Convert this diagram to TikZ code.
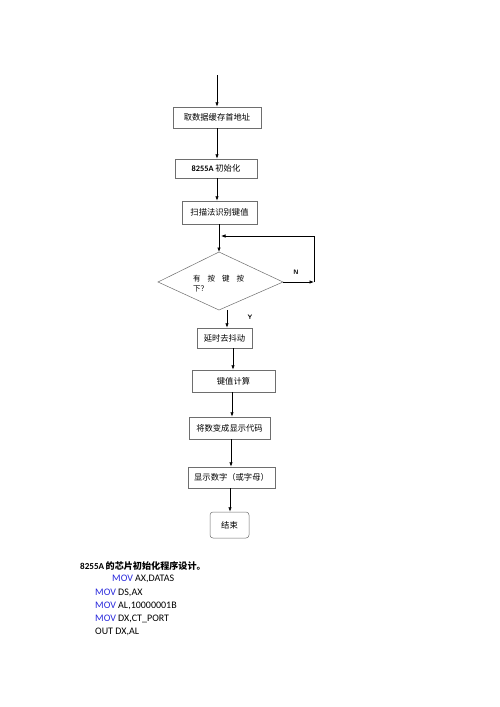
\documentclass[tikz,border=0pt]{standalone}
\usepackage{fontspec}
\setmainfont{Carlito}
\newfontfamily\cjk{Noto Sans CJK SC}
\usetikzlibrary{arrows.meta}
\definecolor{kw}{RGB}{40,40,220}
\definecolor{boxline}{RGB}{110,110,110}
\tikzset{
  arr/.style={draw=black, line width=0.7pt, -{Latex[length=4.5pt,width=3.5pt]}},
  fbox/.style={draw=boxline, line width=0.5pt, inner sep=0pt, font=\cjk\fontsize{8.3}{10}\selectfont},
  lbl/.style={font=\sffamily\bfseries\fontsize{6.5}{7}\selectfont, inner sep=0pt},
  code/.style={anchor=west, inner sep=0pt, font=\fontsize{10}{11}\selectfont}
}
\begin{document}
\begin{tikzpicture}[x=1pt,y=-1pt]
\useasboundingbox[fill=white] (0,0) rectangle (500,707);
% boxes
\node[fbox, minimum width=88, minimum height=21] (b1) at (217,117.5) {取数据缓存首地址};
\node[fbox, minimum width=82, minimum height=19] (b2) at (216,168.5) {{\fontspec{Carlito}\bfseries 8255A} 初始化};
\node[fbox, minimum width=75, minimum height=23] (b3) at (219.5,212.5) {扫描法识别键值};
% diamond
\coordinate (dT) at (219,252);
\coordinate (dR) at (283,282);
\coordinate (dB) at (219,310);
\coordinate (dL) at (158,282);
\draw[draw=boxline, line width=0.5pt] (dL) -- (dT) -- (dR) -- (dB) -- cycle;
\node[anchor=west, inner sep=0pt, font=\cjk\fontsize{7.5}{10}\selectfont, align=left] (dtext) at (193,284) {有\hspace{7pt}按\hspace{7pt}键\hspace{7pt}按\\下？};
\node[fbox, minimum width=55, minimum height=20] (b4) at (224.5,338) {延时去抖动};
\node[fbox, minimum width=83, minimum height=22] (b5) at (233.5,381) {键值计算};
\node[fbox, minimum width=81, minimum height=22] (b6) at (229.5,428) {将数变成显示代码};
\node[fbox, minimum width=87, minimum height=21] (b7) at (231.5,477.5) {显示数字（或字母）};
\node[fbox, rounded corners=3pt, minimum width=39, minimum height=26] (b8) at (229.5,525) {结束};
% connectors
\coordinate (start) at (217,75);
\draw[arr] (start) -- (b1.north);
\draw[arr] (b1.south) -- (b2.north -| b1.south);
\draw[arr] (b2.south -| b1.south) -- (b3.north -| b1.south);
\draw[arr] (b3.south -| dT) -- (dT);
\coordinate (nE) at (314,282);
\coordinate (loopIn) at (221,236);
\draw[arr] (dR) -- (nE);
\draw[arr] (nE) -- (nE |- loopIn) -- (loopIn);
\node[lbl] (N) at (296,272) {N};
\coordinate (yS) at (227,310);
\draw[arr] (yS) -- (b4.north -| yS);
\node[lbl] (Y) at (250,317) {Y};
\coordinate (c45) at (233,348);
\draw[arr] (b4.south -| c45) -- (b5.north -| c45);
\coordinate (c56) at (232,392);
\draw[arr] (b5.south -| c56) -- (b6.north -| c56);
\coordinate (c67) at (231,439);
\draw[arr] (b6.south -| c67) -- (b7.north -| c67);
\coordinate (c78) at (230,488);
\draw[arr] (b7.south -| c78) -- (b8.north -| c78);
% text block
\node[anchor=west, inner sep=0pt, font=\fontsize{9.1}{10}\selectfont\bfseries] (h) at (80,566) {8255A\,{\cjk\bfseries 的芯片初始化程序设计。}};
\node[code] (l1) at (112,579) {\textcolor{kw}{MOV} AX,DATAS};
\node[code] (l2) at (95,593) {\textcolor{kw}{MOV} DS,AX};
\node[code] (l3) at (95,606) {\textcolor{kw}{MOV} AL,10000001B};
\node[code] (l4) at (95,619) {\textcolor{kw}{MOV} DX,CT\_PORT};
\node[code] (l5) at (95,632) {OUT DX,AL};
\end{tikzpicture}
\end{document}
